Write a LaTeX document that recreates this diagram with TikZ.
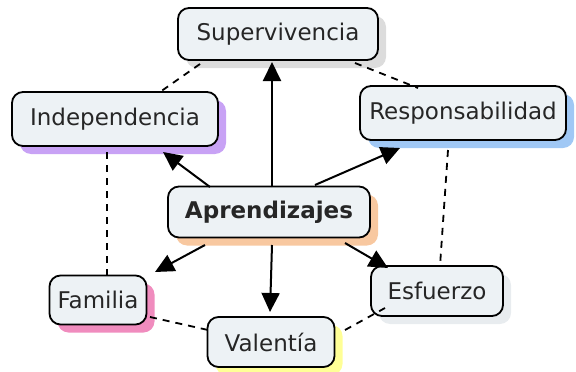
\documentclass[tikz,border=0pt]{standalone}
\usepackage{fontspec}
\setmainfont{DejaVu Sans}
\usetikzlibrary{arrows.meta,shadows}
\definecolor{boxfill}{HTML}{EDF2F5}
\definecolor{shgray}{HTML}{DCDCDC}
\definecolor{shpurple}{HTML}{C8A2F5}
\definecolor{shblue}{HTML}{A0C8F5}
\definecolor{shorange}{HTML}{F8C8A0}
\definecolor{shpink}{HTML}{F08CBE}
\definecolor{shyellow}{HTML}{FFFF96}
\definecolor{shlight}{HTML}{E8ECEF}
\tikzset{
  concept/.style={draw=black, line width=1.8pt, rounded corners=11pt, fill=boxfill,
    font=\fontsize{23}{27}\selectfont, text=black!85, inner sep=0pt},
  shad/.style={general shadow={fill=#1, shadow xshift=8pt, shadow yshift=-8pt}},
  link/.style={line width=2pt, -{Triangle[length=19pt,width=18pt]}},
  assoc/.style={line width=1.8pt, dash pattern=on 7pt off 6pt},
}
\begin{document}
\begin{tikzpicture}[x=1pt,y=-1pt]
\useasboundingbox (0,0) rectangle (576,372);
\node[concept, shad=shgray, minimum width=200pt, minimum height=52pt] (sup) at (278,34) {Supervivencia};
\node[concept, shad=shpurple, minimum width=206pt, minimum height=54pt] (ind) at (115,119) {Independencia};
\node[concept, shad=shblue, minimum width=206pt, minimum height=54pt] (res) at (463,113) {Responsabilidad};
\node[concept, shad=shorange, minimum width=202pt, minimum height=51pt, font=\fontsize{23}{27}\selectfont\bfseries] (apr) at (269,212) {Aprendizajes};
\node[concept, shad=shpink, minimum width=97pt, minimum height=49pt] (fam) at (98,300) {Familia};
\node[concept, shad=shyellow, minimum width=127pt, minimum height=50pt] (val) at (271,342) {Valentía};
\node[concept, shad=shlight, minimum width=132pt, minimum height=50pt] (esf) at (437,291) {Esfuerzo};

\draw[link] ([shift={(3,-25)}]apr.center) -- ([shift={(-6,28)}]sup.center);
\draw[link] ([shift={(-59,-25)}]apr.center) -- ([shift={(48,33)}]ind.center);
\draw[link] ([shift={(46,-27)}]apr.center) -- ([shift={(-63,35)}]res.center);
\draw[link] ([shift={(-64,33)}]apr.center) -- ([shift={(57,-28)}]fam.center);
\draw[link] ([shift={(3,33)}]apr.center) -- ([shift={(-1,-30)}]val.center);
\draw[link] ([shift={(76,31)}]apr.center) -- ([shift={(-49,-23)}]esf.center);

\draw[assoc] ([shift={(-78,30)}]sup.center) -- ([shift={(45,-27)}]ind.center);
\draw[assoc] ([shift={(77,29)}]sup.center) -- ([shift={(-45,-25)}]res.center);
\draw[assoc] ([shift={(-8,33)}]ind.center) -- ([shift={(9,-24)}]fam.center);
\draw[assoc] ([shift={(-15,37)}]res.center) -- ([shift={(3,-25)}]esf.center);
\draw[assoc] ([shift={(52,17)}]fam.center) -- ([shift={(-63,-12)}]val.center);
\draw[assoc] ([shift={(74,-12)}]val.center) -- ([shift={(-52,17)}]esf.center);
\end{tikzpicture}
\end{document}
